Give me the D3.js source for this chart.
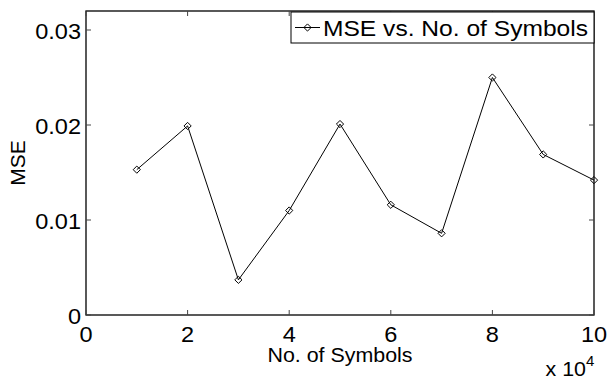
<!DOCTYPE html>
<html>
<head>
<meta charset="utf-8">
<script src="https://cdn.jsdelivr.net/npm/d3@7"></script>
<style>
  html, body { margin: 0; padding: 0; background: #fff; }
  svg { display: block; }
  text { font-family: "Liberation Sans", Arial, Helvetica, sans-serif; fill: #000; }
</style>
</head>
<body>
<svg id="chart" width="607" height="379"></svg>
<script>
// Number of transmitted symbols and the resulting mean squared error
const symbols = [10000, 20000, 30000, 40000, 50000, 60000, 70000, 80000, 90000, 100000];
const mse = [0.0153, 0.0199, 0.0037, 0.0110, 0.0201, 0.0116, 0.0086, 0.0250, 0.0169, 0.0142];
const xTicks = [0, 20000, 40000, 60000, 80000, 100000];
const yTicks = [0, 0.01, 0.02, 0.03];
const seriesName = "MSE vs. No. of Symbols";

const W = 607, H = 379;
const margin = { left: 86, top: 11, right: 13, bottom: 64 };
const svg = d3.select("#chart");

const x = d3.scaleLinear().domain([0, 100000]).range([margin.left, W - margin.right]);
const y = d3.scaleLinear().domain([0, 0.032]).range([H - margin.bottom, margin.top]);

const x0 = x.range()[0], x1 = x.range()[1];
const y0 = y.range()[0], y1 = y.range()[1];
const sx = 1.07; // slight horizontal widening of glyphs
const tickLen = 5;

// Axis box
svg.append("rect")
  .attr("x", x0).attr("y", y1)
  .attr("width", x1 - x0).attr("height", y0 - y1)
  .attr("fill", "none").attr("stroke", "#000").attr("stroke-width", 1.3);

// Ticks on all four sides (pointing inward)
const tickG = svg.append("g").attr("stroke", "#444").attr("stroke-width", 1);
xTicks.forEach(v => {
  tickG.append("line").attr("x1", x(v)).attr("x2", x(v)).attr("y1", y0).attr("y2", y0 - tickLen);
  tickG.append("line").attr("x1", x(v)).attr("x2", x(v)).attr("y1", y1).attr("y2", y1 + tickLen);
});
yTicks.forEach(v => {
  tickG.append("line").attr("x1", x0).attr("x2", x0 + tickLen).attr("y1", y(v)).attr("y2", y(v));
  tickG.append("line").attr("x1", x1).attr("x2", x1 - tickLen).attr("y1", y(v)).attr("y2", y(v));
});

// Tick labels
const xFmt = v => String(v / 10000);
xTicks.forEach(v => {
  svg.append("text")
    .attr("transform", `translate(${x(v)},${y0 + 27}) scale(${sx},1)`)
    .attr("text-anchor", "middle")
    .attr("font-size", 22)
    .text(xFmt(v));
});
const yFmt = v => v === 0 ? "0" : d3.format(".2f")(v);
yTicks.forEach(v => {
  svg.append("text")
    .attr("transform", `translate(${x0 - 5},${y(v) + 9}) scale(${sx},1)`)
    .attr("text-anchor", "end")
    .attr("font-size", 22)
    .text(yFmt(v));
});

// Exponent note for the x axis
const expo = svg.append("text")
  .attr("transform", `translate(${x1 - 8},${H - 3}) scale(${sx},1)`)
  .attr("text-anchor", "end")
  .attr("font-size", 20);
expo.append("tspan").text("x 10");
svg.append("text")
  .attr("transform", `translate(${x1 - 8},${H - 13}) scale(${sx},1)`)
  .attr("font-size", 14)
  .text("4");

// Axis titles
svg.append("text")
  .attr("transform", `translate(${(x0 + x1) / 2},${y0 + 47}) scale(${sx},1)`)
  .attr("text-anchor", "middle")
  .attr("font-size", 20)
  .text("No. of Symbols");
svg.append("text")
  .attr("transform", `translate(${25},${(y0 + y1) / 2}) rotate(-90)`)
  .attr("text-anchor", "middle")
  .attr("font-size", 21)
  .text("MSE");

// Data line and diamond markers
const line = d3.line().x((d, i) => x(symbols[i])).y(d => y(d));
svg.append("path")
  .datum(mse)
  .attr("d", line)
  .attr("fill", "none").attr("stroke", "#000").attr("stroke-width", 1);

const diamond = (cx, cy, r) => `M${cx},${cy - r}L${cx + r},${cy}L${cx},${cy + r}L${cx - r},${cy}Z`;
svg.append("g").selectAll("path")
  .data(mse)
  .join("path")
  .attr("d", (d, i) => diamond(x(symbols[i]), y(d), 3.6))
  .attr("fill", "none").attr("stroke", "#000").attr("stroke-width", 1);

// Legend
const lg = { x: 291, y: 12, w: 303, h: 31 };
svg.append("rect")
  .attr("x", lg.x).attr("y", lg.y).attr("width", lg.w).attr("height", lg.h)
  .attr("fill", "#fff").attr("stroke", "#000").attr("stroke-width", 1);
const ly = lg.y + lg.h / 2;
svg.append("line")
  .attr("x1", lg.x + 4).attr("x2", lg.x + 29).attr("y1", ly).attr("y2", ly)
  .attr("stroke", "#000").attr("stroke-width", 1);
svg.append("path")
  .attr("d", diamond(lg.x + 16.5, ly, 3.6))
  .attr("fill", "none").attr("stroke", "#000").attr("stroke-width", 1);
svg.append("text")
  .attr("x", lg.x + 32).attr("y", ly + 8)
  .attr("font-size", 22)
  .attr("textLength", 265).attr("lengthAdjust", "spacingAndGlyphs")
  .text(seriesName);
</script>
</body>
</html>
